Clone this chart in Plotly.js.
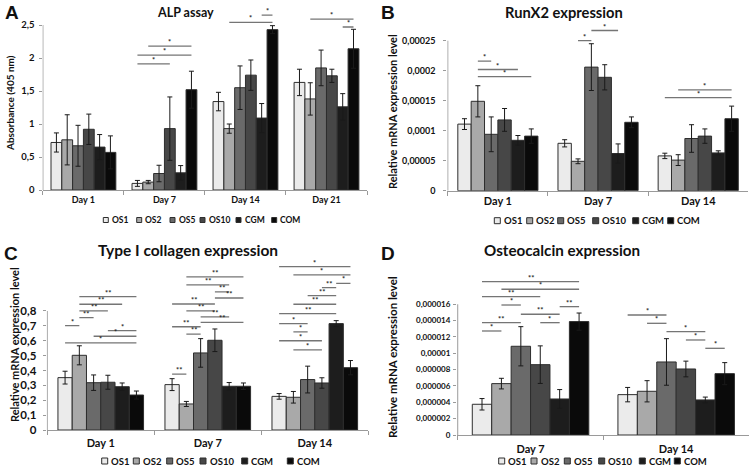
<!DOCTYPE html>
<html><head><meta charset="utf-8">
<script src="https://cdn.plot.ly/plotly-3.0.1.min.js"></script>
<style>html,body{margin:0;padding:0;background:#fff}#chart{width:756px;height:470px}</style>
</head><body><div id="chart"></div>
<script>
// ---------- shared ----------
const seriesNames = ["OS1", "OS2", "OS5", "OS10", "CGM", "COM"];
const seriesColors = ["#ebebeb", "#a9a9a9", "#6a6a6a", "#474747", "#1d1d1d", "#0a0a0a"];

// ---------- A: ALP assay ----------
const aTitle = "ALP assay";
const aYTitle = "Absorbance (405 nm)";
const aDays = ["Day 1", "Day 7", "Day 14", "Day 21"];
const aMeans = [
  [0.72, 0.10, 1.34, 1.63],
  [0.76, 0.12, 0.93, 1.38],
  [0.67, 0.25, 1.55, 1.85],
  [0.92, 0.93, 1.74, 1.73],
  [0.65, 0.26, 1.09, 1.26],
  [0.57, 1.52, 2.43, 2.14]
];
const aErrors = [
  [0.145, 0.045, 0.14, 0.20],
  [0.38, 0.025, 0.07, 0.245],
  [0.31, 0.125, 0.33, 0.27],
  [0.23, 0.48, 0.23, 0.10],
  [0.19, 0.11, 0.22, 0.20],
  [0.25, 0.28, 0.06, 0.295]
];
const aTickVals = [0, 0.5, 1, 1.5, 2, 2.5];
const aTickText = ["0", "0,5", "1", "1,5", "2", "2,5"];
const aSigDay  = [1, 1, 1, 2, 2, 3, 3];
const aSigFrom = [0, 0, 1, 1, 4, 1, 4];
const aSigTo   = [3, 5, 5, 5, 5, 5, 5];
const aSigY    = [1.91, 2.045, 2.18, 2.54, 2.65, 2.59, 2.47];
const aSigMark = ["*", "*", "*", "*", "*", "*", "*"];

// ---------- B: RunX2 expression ----------
const bTitle = "RunX2 expression";
const bYTitle = "Relative mRNA expression level";
const bDays = ["Day 1", "Day 7", "Day 14"];
const bMeans = [
  [11.1e-5, 7.9e-5, 5.8e-5],
  [14.9e-5, 4.9e-5, 5.1e-5],
  [9.4e-5, 20.6e-5, 8.7e-5],
  [11.8e-5, 18.9e-5, 9.1e-5],
  [8.4e-5, 6.2e-5, 6.3e-5],
  [9.1e-5, 11.4e-5, 12.0e-5]
];
const bErrors = [
  [0.9e-5, 0.6e-5, 0.45e-5],
  [2.6e-5, 0.4e-5, 0.9e-5],
  [2.9e-5, 3.9e-5, 2.3e-5],
  [1.9e-5, 2.1e-5, 1.2e-5],
  [0.8e-5, 1.6e-5, 0.35e-5],
  [1.2e-5, 0.9e-5, 2.1e-5]
];
const bTickVals = [0, 5e-5, 10e-5, 15e-5, 20e-5, 25e-5];
const bTickText = ["0", "0,00005", "0,0001", "0,00015", "0,0002", "0,00025"];
const bSigDay  = [0, 0, 0, 1, 1, 2, 2];
const bSigFrom = [1, 1, 1, 1, 2, 1, 0];
const bSigTo   = [2, 4, 5, 2, 4, 5, 5];
const bSigY    = [21.6e-5, 20.2e-5, 19.0e-5, 25.0e-5, 26.7e-5, 16.8e-5, 15.5e-5];
const bSigMark = ["*", "*", "*", "*", "*", "*", "*"];

// ---------- C: Type I collagen expression ----------
const cTitle = "Type I collagen expression";
const cYTitle = "Relative mRNA expression level";
const cDays = ["Day 1", "Day 7", "Day 14"];
const cMeans = [
  [0.352, 0.305, 0.226],
  [0.502, 0.175, 0.220],
  [0.318, 0.518, 0.339],
  [0.321, 0.603, 0.316],
  [0.291, 0.294, 0.715],
  [0.235, 0.294, 0.419]
];
const cErrors = [
  [0.043, 0.040, 0.019],
  [0.064, 0.017, 0.039],
  [0.052, 0.096, 0.090],
  [0.047, 0.076, 0.035],
  [0.025, 0.025, 0.020],
  [0.027, 0.022, 0.048]
];
const cTickVals = [0, 0.1, 0.2, 0.3, 0.4, 0.5, 0.6, 0.7, 0.8];
const cTickText = ["0", "0,1", "0,2", "0,3", "0,4", "0,5", "0,6", "0,7", "0,8"];
const cSigDay  = [0, 0, 0, 0, 0, 0, 0, 0,
                  1, 1, 1, 1, 1, 1, 1, 1, 1, 1, 1,
                  2, 2, 2, 2, 2, 2, 2, 2, 2, 2, 2];
const cSigFrom = [1, 1, 1, 1, 0, 3, 2, 0,
                  1, 1, 3, 3, 0, 1, 2, 2, 0, 1, 0,
                  0, 1, 4, 3, 2, 1, 0, 0, 1, 0, 1];
const cSigTo   = [5, 4, 3, 2, 1, 5, 5, 5,
                  5, 4, 4, 5, 3, 3, 4, 5, 2, 2, 1,
                  5, 5, 5, 4, 4, 4, 4, 2, 2, 3, 3];
const cSigY    = [0.896, 0.845, 0.800, 0.755, 0.701, 0.668, 0.630, 0.585,
                  1.029, 0.975, 0.928, 0.887, 0.847, 0.800, 0.760, 0.723, 0.694, 0.645, 0.376,
                  1.098, 1.042, 0.986, 0.957, 0.903, 0.845, 0.782, 0.715, 0.659, 0.600, 0.538];
const cSigMark = ["**", "**", "**", "**", "*", "*", "*", "*",
                  "**", "**", "**", "**", "**", "**", "**", "**", "**", "**", "**",
                  "*", "*", "*", "**", "**", "**", "**", "*", "*", "*", "*"];

// ---------- D: Osteocalcin expression ----------
const dTitle = "Osteocalcin expression";
const dYTitle = "Relative mRNA expression level";
const dDays = ["Day 7", "Day 14"];
const dMeans = [
  [3.76e-6, 4.94e-6],
  [6.29e-6, 5.35e-6],
  [10.86e-6, 8.94e-6],
  [8.61e-6, 8.08e-6],
  [4.41e-6, 4.29e-6],
  [13.88e-6, 7.51e-6]
];
const dErrors = [
  [0.70e-6, 0.88e-6],
  [0.65e-6, 1.30e-6],
  [2.40e-6, 2.85e-6],
  [2.30e-6, 0.96e-6],
  [1.15e-6, 0.35e-6],
  [1.05e-6, 1.35e-6]
];
const dTickVals = [0, 2e-6, 4e-6, 6e-6, 8e-6, 10e-6, 12e-6, 14e-6, 16e-6];
const dTickText = ["0", "0,000002", "0,000004", "0,000006", "0,000008", "0,00001", "0,000012", "0,000014", "0,000016"];
const dSigDay  = [0, 0, 0, 0, 0, 0, 0, 0, 0, 1, 1, 1, 1, 1];
const dSigFrom = [0, 1, 0, 1, 2, 4, 0, 3, 0, 0, 1, 2, 3, 4];
const dSigTo   = [5, 5, 3, 2, 4, 5, 2, 4, 1, 2, 2, 4, 4, 5];
const dSigY    = [18.77e-6, 17.84e-6, 16.93e-6, 15.91e-6, 14.78e-6, 15.71e-6, 13.75e-6, 13.75e-6, 12.73e-6,
                  14.69e-6, 13.67e-6, 12.65e-6, 11.63e-6, 10.61e-6];
const dSigMark = ["**", "*", "**", "*", "**", "**", "**", "*", "*", "*", "*", "*", "*", "*"];

// ---------- layout configuration (pixel geometry) ----------
const W = 756, H = 470;
const FONT = 'Lato, "Open Sans", sans-serif';
const AXIS_GRAY = "#9a9a9a";
const BARGAP = 0.2;

const panels = [
  { letter: "A", title: aTitle, yTitle: aYTitle, days: aDays, means: aMeans, errs: aErrors,
    tickVals: aTickVals, tickText: aTickText,
    sig: { day: aSigDay, from: aSigFrom, to: aSigTo, y: aSigY, mark: aSigMark },
    geo: { left: 42.5, right: 367, bottom: 190, top: 6, rangeTop: 2.788 },
    pos: { title: [185, 12], letter: [12, 13], yTitle: [10, 103], legendY: 220,
           legendX: [103.3, 136.7, 170, 200, 236, 271.7], sw: 5 },
    fs: { tick: 9.5, day: 9, legend: 8.5, yTitle: 10, title: 12.5, standoff: 2, xStandoff: 1 } },
  { letter: "B", title: bTitle, yTitle: bYTitle, days: bDays, means: bMeans, errs: bErrors,
    tickVals: bTickVals, tickText: bTickText,
    sig: { day: bSigDay, from: bSigFrom, to: bSigTo, y: bSigY, mark: bSigMark },
    geo: { left: 447.3, right: 748.3, bottom: 190.7, top: 22, rangeTop: 2.812e-4 },
    pos: { title: [563.5, 12.5], letter: [388, 13], yTitle: [392, 112], legendY: 220.7,
           legendX: [494.3, 526.7, 557.7, 592.7, 632.7, 667.7], sw: 6 },
    fs: { tick: 9, day: 11, legend: 9.5, yTitle: 11, title: 14.7, standoff: 6, xStandoff: 0 } },
  { letter: "C", title: cTitle, yTitle: cYTitle, days: cDays, means: cMeans, errs: cErrors,
    tickVals: cTickVals, tickText: cTickText,
    sig: { day: cSigDay, from: cSigFrom, to: cSigTo, y: cSigY, mark: cSigMark },
    geo: { left: 46.7, right: 368.3, bottom: 430, top: 258, rangeTop: 1.156 },
    pos: { title: [187.5, 250], letter: [11, 253], yTitle: [14, 345], legendY: 461,
           legendX: [101.7, 133.3, 166.7, 200, 241.7, 287.3], sw: 6 },
    fs: { tick: 11.5, day: 11, legend: 9.5, yTitle: 11, title: 15.5, standoff: 4, xStandoff: 3 } },
  { letter: "D", title: dTitle, yTitle: dYTitle, days: dDays, means: dMeans, errs: dErrors,
    tickVals: dTickVals, tickText: dTickText,
    sig: { day: dSigDay, from: dSigFrom, to: dSigTo, y: dSigY, mark: dSigMark },
    geo: { left: 457, right: 749, bottom: 435, top: 272, rangeTop: 1.995e-5 },
    pos: { title: [561.8, 250], letter: [388, 253], yTitle: [392, 357], legendY: 461,
           legendX: [498.7, 531, 564.3, 598.7, 639.3, 674.3], sw: 6 },
    fs: { tick: 8, day: 11, legend: 9.5, yTitle: 11.5, title: 15.2, standoff: 1, xStandoff: 4 } }
];

const fx = v => v / W;
const fy = v => 1 - v / H;
const groupW = 1 - BARGAP;
const barCenter = (day, i) => day - groupW / 2 + (i + 0.5) * groupW / seriesNames.length;

const traces = [], shapes = [], annotations = [];
const layout = {
  width: W, height: H, margin: { l: 0, r: 0, t: 0, b: 0 },
  paper_bgcolor: "#ffffff", plot_bgcolor: "#ffffff",
  showlegend: false, barmode: "group", bargap: BARGAP, bargroupgap: 0,
  font: { family: FONT, color: "#111111" },
  shapes: shapes, annotations: annotations
};

panels.forEach((p, k) => {
  const n = k === 0 ? "" : String(k + 1);
  const xa = "x" + n, ya = "y" + n;
  const g = p.geo;
  seriesNames.forEach((name, i) => {
    traces.push({
      type: "bar", name: name, x: p.days, y: p.means[i], xaxis: xa, yaxis: ya,
      marker: { color: seriesColors[i], line: { color: "#2e2e2e", width: 1 } },
      error_y: { type: "data", array: p.errs[i], visible: true, color: "#1a1a1a", thickness: 1, width: 2.5 },
      hoverinfo: "skip"
    });
  });
  layout["xaxis" + n] = {
    domain: [fx(g.left), fx(g.right)], anchor: ya, type: "category",
    categoryorder: "array", categoryarray: p.days,
    range: [-0.505, p.days.length - 0.5], tickson: "boundaries",
    ticks: "outside", ticklen: 4, tickcolor: AXIS_GRAY, tickwidth: 1,
    ticklabelstandoff: p.fs.xStandoff,
    showline: true, linecolor: AXIS_GRAY, linewidth: 1,
    showgrid: false, zeroline: false, fixedrange: true,
    tickfont: { family: FONT, size: p.fs.day, color: "#111", weight: 700 }
  };
  layout["yaxis" + n] = {
    domain: [fy(g.bottom), fy(g.top)], anchor: xa,
    range: [0, g.rangeTop], tickmode: "array", tickvals: p.tickVals, ticktext: p.tickText,
    ticks: "outside", ticklen: 3, tickcolor: AXIS_GRAY, tickwidth: 1,
    ticklabelstandoff: p.fs.standoff,
    showline: false, showgrid: false, zeroline: false, fixedrange: true,
    tickfont: { family: FONT, size: p.fs.tick, color: "#111", weight: 700 }
  };
  // y axis line, from 0 to the top tick only
  shapes.push({ type: "line", xref: xa, yref: ya, x0: -0.5, x1: -0.5, y0: 0,
    y1: p.tickVals[p.tickVals.length - 1], line: { color: AXIS_GRAY, width: 1 } });
  // significance brackets
  p.sig.y.forEach((yv, j) => {
    const x0 = barCenter(p.sig.day[j], p.sig.from[j]);
    const x1 = barCenter(p.sig.day[j], p.sig.to[j]);
    shapes.push({ type: "line", xref: xa, yref: ya, x0: x0, x1: x1, y0: yv, y1: yv,
      line: { color: "#757575", width: 1.3 } });
    annotations.push({ xref: xa, yref: ya, x: (x0 + x1) / 2, y: yv, text: p.sig.mark[j],
      showarrow: false, yanchor: "bottom", yshift: -3,
      font: { family: FONT, size: 7.5, color: "#222", weight: 700 } });
  });
  // titles
  annotations.push({ xref: "paper", yref: "paper", x: fx(p.pos.title[0]), y: fy(p.pos.title[1]),
    text: p.title, showarrow: false, xanchor: "center", yanchor: "middle",
    font: { family: FONT, size: p.fs.title, color: "#111", weight: 700 } });
  annotations.push({ xref: "paper", yref: "paper", x: fx(p.pos.letter[0]), y: fy(p.pos.letter[1]),
    text: p.letter, showarrow: false, xanchor: "center", yanchor: "middle",
    font: { family: '"Liberation Sans", Arial, sans-serif', size: 19, color: "#111", weight: 700 } });
  annotations.push({ xref: "paper", yref: "paper", x: fx(p.pos.yTitle[0]), y: fy(p.pos.yTitle[1]),
    text: p.yTitle, showarrow: false, xanchor: "center", yanchor: "middle", textangle: -90,
    font: { family: FONT, size: p.fs.yTitle, color: "#111", weight: 700 } });
  // legend (Excel style: small square + label)
  seriesNames.forEach((name, i) => {
    const sx = p.pos.legendX[i], sy = p.pos.legendY, s = p.pos.sw;
    shapes.push({ type: "rect", xref: "paper", yref: "paper",
      x0: fx(sx), x1: fx(sx + s), y0: fy(sy + s / 2), y1: fy(sy - s / 2),
      fillcolor: seriesColors[i], line: { color: "#2e2e2e", width: 1 } });
    annotations.push({ xref: "paper", yref: "paper", x: fx(sx + s + 1.5), y: fy(sy),
      text: name, showarrow: false, xanchor: "left", yanchor: "middle",
      font: { family: FONT, size: p.fs.legend, color: "#111", weight: 700 } });
  });
});

Plotly.newPlot("chart", traces, layout, { displayModeBar: false, staticPlot: true });
</script>
</body></html>
